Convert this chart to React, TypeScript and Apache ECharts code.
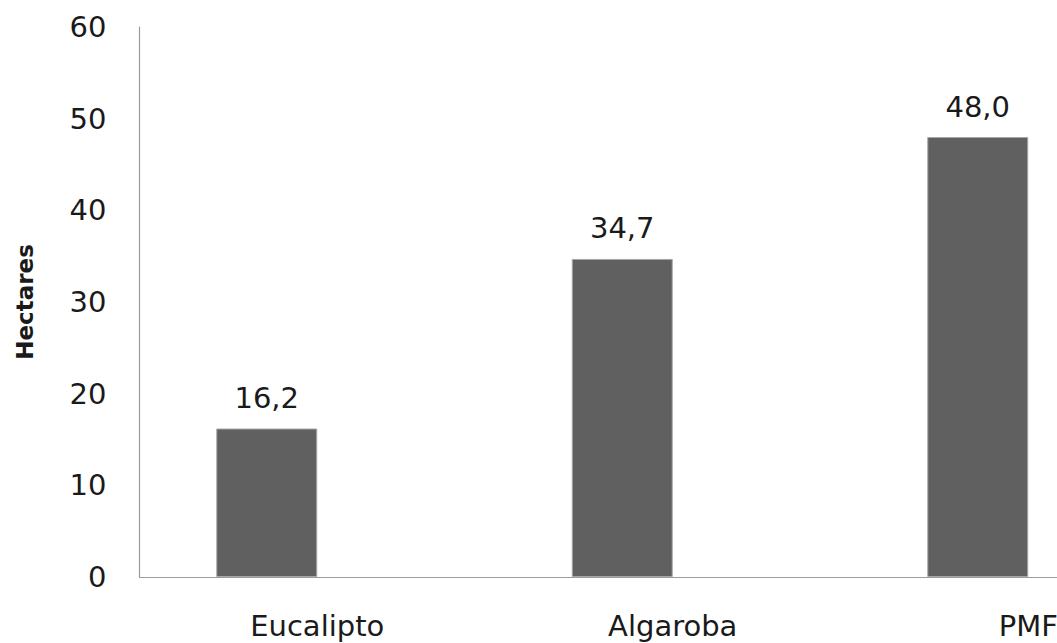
import React, { useEffect, useRef } from "react";
import * as echarts from "echarts";

// Planted area per species, in hectares
const categories = ["Eucalipto", "Algaroba", "PMF"];
const hectares = [16.2, 34.7, 48.0];
// Second (empty) series of the cluster keeps the bars to the left of each category centre
const emptySeries = [null, null, null];
const yTicks = { min: 0, max: 60, interval: 10 };

const FONT = "DejaVu Sans";

export default function App() {
  const ref = useRef<HTMLDivElement>(null);

  useEffect(() => {
    if (!ref.current) return;
    const chart = echarts.init(ref.current, undefined, { renderer: "svg" });
    chart.setOption({
      animation: false,
      backgroundColor: "#ffffff",
      grid: {
        left: 139.5,
        top: 27,
        bottom: 66,
        width: 1066.5,
        containLabel: false,
        outerBoundsMode: "none",
      },
      xAxis: {
        type: "category",
        data: categories,
        axisLine: { show: true, lineStyle: { color: "#9c9c9c", width: 1.2 } },
        axisTick: { show: false },
        axisLabel: {
          interval: 0,
          margin: 34,
          fontFamily: FONT,
          fontSize: 29,
          color: "#1a1a1a",
        },
        splitLine: { show: false },
      },
      yAxis: {
        type: "value",
        min: yTicks.min,
        max: yTicks.max,
        interval: yTicks.interval,
        name: "Hectares",
        nameLocation: "middle",
        nameRotate: 90,
        nameGap: 103,
        nameMoveOverlap: false,
        nameTextStyle: { fontFamily: FONT, fontSize: 23, fontWeight: "bold", color: "#1a1a1a" },
        axisLine: { show: true, lineStyle: { color: "#9c9c9c", width: 1.2 } },
        axisTick: { show: false },
        axisLabel: { margin: 33, fontFamily: FONT, fontSize: 29, color: "#1a1a1a" },
        splitLine: { show: false },
      },
      series: [
        {
          type: "bar",
          data: hectares,
          barWidth: 101,
          barGap: "0%",
          itemStyle: { color: "#606060", borderColor: "#a8a8a8", borderWidth: 1 },
          label: {
            show: true,
            position: "top",
            distance: 16,
            fontFamily: FONT,
            fontSize: 29,
            color: "#1a1a1a",
            formatter: (p: any) => Number(p.value).toFixed(1).replace(".", ","),
          },
        },
        {
          type: "bar",
          data: emptySeries,
          barWidth: 101,
          barGap: "0%",
          itemStyle: { color: "#606060" },
        },
      ],
    });
    return () => chart.dispose();
  }, []);

  return (
    <div
      ref={ref}
      style={{ position: "absolute", left: 0, top: 0, width: 1057, height: 643 }}
    />
  );
}
